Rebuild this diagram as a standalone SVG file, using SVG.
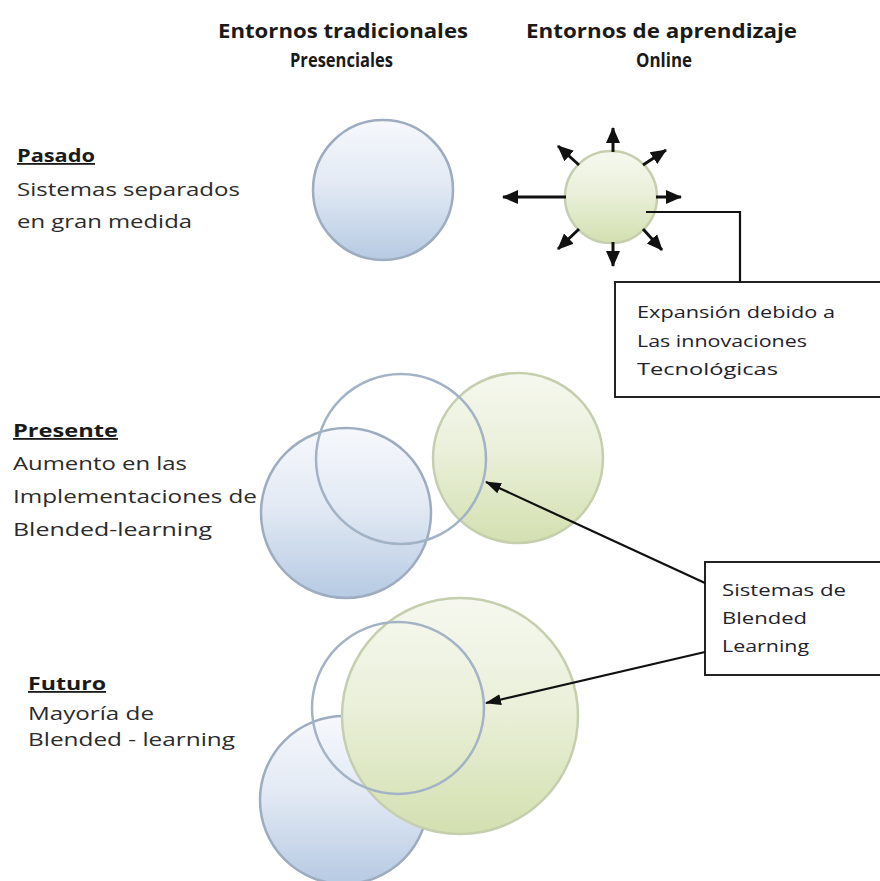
<svg xmlns="http://www.w3.org/2000/svg" width="880" height="881" viewBox="0 0 880 881">
  <defs>
    <linearGradient id="gBlue" x1="0" y1="0" x2="0" y2="1">
      <stop offset="0" stop-color="#f6f8fc"/>
      <stop offset="0.45" stop-color="#e3eaf4"/>
      <stop offset="1" stop-color="#b6cae3"/>
    </linearGradient>
    <linearGradient id="gGreen" x1="0" y1="0" x2="0" y2="1">
      <stop offset="0" stop-color="#f6f8ef"/>
      <stop offset="0.45" stop-color="#eaf0da"/>
      <stop offset="1" stop-color="#d3e0b0"/>
    </linearGradient>
    <marker id="ahBig" markerUnits="userSpaceOnUse" markerWidth="16" markerHeight="16" viewBox="0 0 16 16" refX="15" refY="8" orient="auto">
      <path d="M0,1 L16,8 L0,15 Z" fill="#111"/>
    </marker>
    <marker id="ahLong" markerUnits="userSpaceOnUse" markerWidth="16" markerHeight="12" viewBox="0 0 16 12" refX="15" refY="6" orient="auto">
      <path d="M0,0.5 L16,6 L0,11.5 Z" fill="#111"/>
    </marker>
  </defs>
  <style>
    .lbl { font-family: "Open Sans", "Liberation Sans", sans-serif; font-size: 18px; fill: #2b2b2b; }
    .hdr { font-family: "Open Sans", "Liberation Sans", sans-serif; font-size: 20px; font-weight: bold; fill: #1a1a1a; }
    .ttl { font-family: "Open Sans", "Liberation Sans", sans-serif; font-size: 18px; font-weight: bold; fill: #1a1a1a; text-decoration: underline; }
    .box { fill: #ffffff; stroke: #222; stroke-width: 2; }
    .boxtxt { font-family: "Open Sans", "Liberation Sans", sans-serif; font-size: 17px; fill: #22222e; }
    .blueFill { fill: url(#gBlue); stroke: #9eacbf; stroke-width: 2.5; }
    .greenFill { fill: url(#gGreen); stroke: #c5cfae; stroke-width: 2.5; }
    .blueLine { fill: none; stroke: #a3b3c6; stroke-width: 2.5; }
    .conn { fill: none; stroke: #111; stroke-width: 2.2; }
    .burst { fill: none; stroke: #111; stroke-width: 3; }
  </style>

  <rect width="880" height="881" fill="#ffffff"/>

  <g id="headers">
    <text class="hdr" x="218" y="38" textLength="250" lengthAdjust="spacingAndGlyphs">Entornos tradicionales</text>
    <text class="hdr" x="290" y="67" textLength="103" lengthAdjust="spacingAndGlyphs">Presenciales</text>
    <text class="hdr" x="526" y="38" textLength="271" lengthAdjust="spacingAndGlyphs">Entornos de aprendizaje</text>
    <text class="hdr" x="636" y="67" textLength="56" lengthAdjust="spacingAndGlyphs">Online</text>
  </g>

  <g id="label-pasado">
    <text class="ttl" x="17" y="162" textLength="78" lengthAdjust="spacingAndGlyphs">Pasado</text>
    <text class="lbl" x="17" y="196" textLength="223" lengthAdjust="spacingAndGlyphs">Sistemas separados</text>
    <text class="lbl" x="17" y="228" textLength="175" lengthAdjust="spacingAndGlyphs">en gran medida</text>
  </g>

  <g id="label-presente">
    <text class="ttl" x="13" y="437" textLength="105" lengthAdjust="spacingAndGlyphs">Presente</text>
    <text class="lbl" x="13" y="470" textLength="174" lengthAdjust="spacingAndGlyphs">Aumento en las</text>
    <text class="lbl" x="13" y="503" textLength="244" lengthAdjust="spacingAndGlyphs">Implementaciones de</text>
    <text class="lbl" x="13" y="536" textLength="199" lengthAdjust="spacingAndGlyphs">Blended-learning</text>
  </g>

  <g id="label-futuro">
    <text class="ttl" x="28" y="690" textLength="78" lengthAdjust="spacingAndGlyphs">Futuro</text>
    <text class="lbl" x="28" y="720" textLength="126" lengthAdjust="spacingAndGlyphs">Mayoría de</text>
    <text class="lbl" x="28" y="746" textLength="207" lengthAdjust="spacingAndGlyphs">Blended - learning</text>
  </g>

  <g id="pasado-presencial">
    <circle class="blueFill" cx="383" cy="190" r="70"/>
  </g>

  <g id="pasado-online">
    <circle class="greenFill" cx="611" cy="197" r="46"/>
  </g>

  <g id="presente-presencial">
    <circle class="blueFill" cx="346" cy="513" r="85"/>
  </g>
  <g id="presente-online">
    <circle class="greenFill" cx="518" cy="458" r="85"/>
  </g>
  <g id="presente-blended">
    <circle class="blueLine" cx="401" cy="459" r="85"/>
  </g>

  <g id="futuro-presencial">
    <circle class="blueFill" cx="344" cy="800" r="84"/>
  </g>
  <g id="futuro-online">
    <circle class="greenFill" cx="460" cy="716" r="118"/>
  </g>
  <g id="futuro-blended">
    <circle class="blueLine" cx="398" cy="708" r="86"/>
  </g>

  <g id="box-expansion">
    <rect class="box" x="615" y="282" width="300" height="115"/>
    <text class="boxtxt" x="637" y="318" textLength="198" lengthAdjust="spacingAndGlyphs">Expansión debido a</text>
    <text class="boxtxt" x="637" y="347" textLength="170" lengthAdjust="spacingAndGlyphs">Las innovaciones</text>
    <text class="boxtxt" x="637" y="375" textLength="141" lengthAdjust="spacingAndGlyphs">Tecnológicas</text>
  </g>

  <g id="box-sistemas">
    <rect class="box" x="705" y="562" width="200" height="113"/>
    <text class="boxtxt" x="722" y="596" textLength="124" lengthAdjust="spacingAndGlyphs">Sistemas de</text>
    <text class="boxtxt" x="722" y="624" textLength="85" lengthAdjust="spacingAndGlyphs">Blended</text>
    <text class="boxtxt" x="722" y="652" textLength="87" lengthAdjust="spacingAndGlyphs">Learning</text>
  </g>

  <g id="connectors">
    <line class="burst" x1="566" y1="197" x2="503" y2="197" marker-end="url(#ahBig)"/>
    <line class="burst" x1="613" y1="152" x2="613" y2="128" marker-end="url(#ahBig)"/>
    <line class="burst" x1="613" y1="242" x2="613" y2="266" marker-end="url(#ahBig)"/>
    <line class="burst" x1="656" y1="197" x2="681" y2="197" marker-end="url(#ahBig)"/>
    <line class="burst" x1="579" y1="165" x2="558" y2="146" marker-end="url(#ahBig)"/>
    <line class="burst" x1="643" y1="165" x2="666" y2="150" marker-end="url(#ahBig)"/>
    <line class="burst" x1="579" y1="229" x2="558" y2="249" marker-end="url(#ahBig)"/>
    <line class="burst" x1="643" y1="229" x2="662" y2="250" marker-end="url(#ahBig)"/>
    <polyline class="conn" points="646,212 740,212 740,282"/>
    <line class="conn" x1="705" y1="583" x2="486" y2="482" marker-end="url(#ahLong)"/>
    <line class="conn" x1="705" y1="652" x2="486" y2="703" marker-end="url(#ahLong)"/>
  </g>
</svg>
